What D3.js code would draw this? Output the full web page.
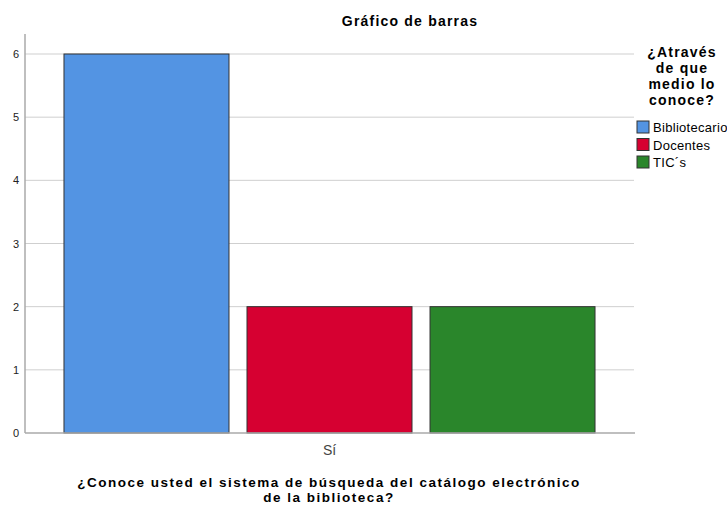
<!DOCTYPE html>
<html>
<head>
<meta charset="utf-8">
<script src="https://cdn.jsdelivr.net/npm/d3@7"></script>
<style>
  body { margin: 0; background: #fff; }
  svg { font-family: "Liberation Sans", Arial, sans-serif; }
</style>
</head>
<body>
<svg id="chart" width="727" height="506"></svg>
<script>
const categories = ["Sí"];
const seriesNames = ["Bibliotecario", "Docentes", "TIC´s"];
const seriesValues = [6, 2, 2];
const seriesColors = ["#5394e3", "#d60031", "#2a862b"];
const yTicks = [0, 1, 2, 3, 4, 5, 6];

const svg = d3.select("#chart");

// plot area
const plotLeft = 25, plotRight = 634, plotTop = 34, plotBottom = 433;

const y = d3.scaleLinear().domain([0, 6]).range([plotBottom, 54]);

const x0 = d3.scaleBand().domain(categories).range([plotLeft, plotRight]);
const x1 = d3.scaleBand()
    .domain(seriesNames)
    .range([0, x0.bandwidth()])
    .paddingInner(0.0984)
    .paddingOuter(0.213);

// gridlines
svg.append("g")
    .selectAll("line")
    .data(yTicks.filter(d => d > 0))
    .join("line")
    .attr("x1", plotLeft)
    .attr("x2", plotRight)
    .attr("y1", d => y(d))
    .attr("y2", d => y(d))
    .attr("stroke", "#cfcfcf")
    .attr("stroke-width", 1);

// bars
svg.append("g")
    .selectAll("rect")
    .data(seriesNames.map((s, i) => ({ name: s, value: seriesValues[i], color: seriesColors[i] })))
    .join("rect")
    .attr("x", d => x0(categories[0]) + x1(d.name))
    .attr("y", d => y(d.value))
    .attr("width", x1.bandwidth())
    .attr("height", d => y(0) - y(d.value))
    .attr("fill", d => d.color)
    .attr("stroke", "#333")
    .attr("stroke-width", 1);

// y axis
const yAxis = svg.append("g")
    .attr("transform", `translate(${plotLeft},0)`)
    .call(d3.axisLeft(y).tickValues(yTicks).tickFormat(d3.format("d")).tickSize(0).tickPadding(6));
yAxis.select(".domain").remove();
yAxis.selectAll("text").attr("font-size", 11).attr("fill", "#222").attr("font-family", "Liberation Sans, Arial, sans-serif");

svg.append("line")
    .attr("x1", plotLeft).attr("x2", plotLeft)
    .attr("y1", plotTop).attr("y2", plotBottom)
    .attr("stroke", "#aaa").attr("stroke-width", 1.5);

// x axis
const xAxis = svg.append("g")
    .attr("transform", `translate(0,${plotBottom})`)
    .call(d3.axisBottom(x0).tickSize(0).tickPadding(12));
xAxis.select(".domain").remove();
xAxis.selectAll("text").attr("font-size", 14).attr("fill", "#444").attr("font-family", "Liberation Sans, Arial, sans-serif");

svg.append("line")
    .attr("x1", plotLeft).attr("x2", plotRight + 1)
    .attr("y1", plotBottom).attr("y2", plotBottom)
    .attr("stroke", "#aaa").attr("stroke-width", 1.5);

// title
svg.append("text")
    .attr("x", 410)
    .attr("y", 26)
    .attr("text-anchor", "middle")
    .attr("font-size", 14)
    .attr("font-weight", "bold")
    .attr("letter-spacing", 1.2)
    .attr("fill", "#000")
    .text("Gráfico de barras");

// x axis title
const xTitle = ["¿Conoce usted el sistema de búsqueda del catálogo electrónico", "de la biblioteca?"];
svg.append("g")
    .selectAll("text")
    .data(xTitle)
    .join("text")
    .attr("x", 329)
    .attr("y", (d, i) => 487 + i * 15)
    .attr("text-anchor", "middle")
    .attr("font-size", 13.5)
    .attr("font-weight", "bold")
    .attr("letter-spacing", 1.5)
    .attr("fill", "#000")
    .text(d => d);

// legend
const legendTitle = ["¿Através", "de que", "medio lo", "conoce?"];
svg.append("g")
    .selectAll("text")
    .data(legendTitle)
    .join("text")
    .attr("x", 682)
    .attr("y", (d, i) => 57 + i * 16)
    .attr("text-anchor", "middle")
    .attr("font-size", 14)
    .attr("font-weight", "bold")
    .attr("letter-spacing", 1.2)
    .attr("fill", "#000")
    .text(d => d);

const legend = svg.append("g")
    .selectAll("g")
    .data(seriesNames)
    .join("g")
    .attr("transform", (d, i) => `translate(637,${121 + i * 17.5})`);

legend.append("rect")
    .attr("width", 12)
    .attr("height", 12)
    .attr("fill", (d, i) => seriesColors[i])
    .attr("stroke", "#333")
    .attr("stroke-width", 1);

legend.append("text")
    .attr("x", 16)
    .attr("y", 11)
    .attr("font-size", 13)
    .attr("letter-spacing", 0.3)
    .attr("fill", "#000")
    .text(d => d);
</script>
</body>
</html>
